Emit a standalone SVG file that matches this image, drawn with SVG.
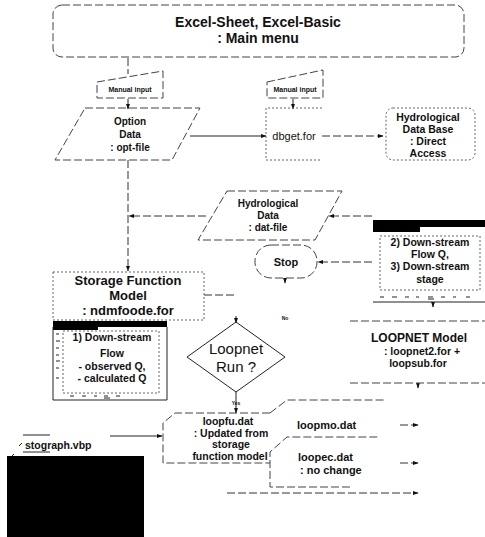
<svg xmlns="http://www.w3.org/2000/svg" width="485" height="537" viewBox="0 0 485 537">
<defs>
<style>
.t{font-family:"Liberation Sans",Arial,sans-serif;font-weight:bold;fill:#111;text-anchor:middle}
.r{font-family:"Liberation Sans",Arial,sans-serif;fill:#111;text-anchor:middle}
.l{text-anchor:start}
.d{fill:none;stroke:#444;stroke-width:1;stroke-dasharray:8 3}
.f{fill:none;stroke:#666;stroke-width:1;stroke-dasharray:2 2}
.s{fill:none;stroke:#222;stroke-width:1}
.c{fill:none;stroke:#333;stroke-width:1;stroke-dasharray:8 3}
</style>
<marker id="ah" viewBox="0 0 10 10" refX="9" refY="5" markerWidth="6" markerHeight="6" orient="auto"><path d="M0,1.5 L10,5 L0,8.5 z" fill="#111"/></marker>
</defs>
<rect width="485" height="537" fill="#fff"/>

<g id="connectors">
<line class="c" x1="128" y1="58" x2="128" y2="74"/>
<line class="s" x1="128" y1="99" x2="128" y2="109" marker-end="url(#ah)"/>
<line class="s" x1="293" y1="99" x2="293" y2="109" marker-end="url(#ah)"/>
<line class="s" x1="190" y1="136" x2="266" y2="136" marker-end="url(#ah)"/>
<line class="c" x1="322" y1="136" x2="383" y2="136" marker-end="url(#ah)"/>
<line class="c" x1="128" y1="160" x2="128" y2="271" marker-end="url(#ah)"/>
<line class="c" x1="206" y1="216" x2="129" y2="216" marker-end="url(#ah)"/>
<line class="c" x1="372" y1="216" x2="329" y2="216" marker-end="url(#ah)"/>
<line class="c" x1="372" y1="262" x2="318" y2="262" marker-end="url(#ah)"/>
<line class="s" x1="285" y1="278" x2="285" y2="283" marker-end="url(#ah)"/>
<line class="c" x1="204" y1="295" x2="234" y2="295"/>
<line class="s" x1="236" y1="316" x2="236" y2="323" marker-end="url(#ah)"/>
<line class="s" x1="433" y1="302" x2="433" y2="307" marker-end="url(#ah)"/>
<line class="s" x1="418" y1="383" x2="418" y2="388" marker-end="url(#ah)"/>
<line class="s" x1="236" y1="392" x2="236" y2="413" marker-end="url(#ah)"/>
<line class="s" x1="110" y1="436" x2="162" y2="436" marker-end="url(#ah)"/>
<line class="c" x1="400" y1="425" x2="418" y2="425" marker-end="url(#ah)"/>
<line class="c" x1="400" y1="463" x2="418" y2="463" marker-end="url(#ah)"/>
<line class="c" x1="227" y1="493" x2="418" y2="493" marker-end="url(#ah)"/>
<text class="t" x="285" y="320" font-size="5">No</text>
<text class="t" x="236" y="405" font-size="5">Yes</text>
</g>

<g id="main-menu">
<rect class="d" x="53" y="5" width="411" height="52" rx="9"/>
<text class="t" x="258" y="27" font-size="14">Excel-Sheet, Excel-Basic</text>
<text class="t" x="258" y="43" font-size="14">: Main menu</text>
</g>

<g id="manual-input-1">
<polygon class="d" points="97,82 163,71 163,98 97,98"/>
<text class="t" x="130" y="92" font-size="7">Manual input</text>
</g>

<g id="manual-input-2">
<polygon class="d" points="267,82 323,70 323,98 267,98"/>
<text class="t" x="295" y="92" font-size="7">Manual input</text>
</g>

<g id="option-data">
<polygon class="d" points="85,108 200,108 172,160 55,160"/>
<text class="t" x="130" y="125" font-size="10">Option</text>
<text class="t" x="130" y="138" font-size="10">Data</text>
<text class="t" x="130" y="151" font-size="10">: opt-file</text>
</g>

<g id="dbget">
<polyline class="f" points="322,108 266,108 266,160 322,160"/>
<text class="r" x="294" y="140" font-size="11">dbget.for</text>
</g>

<g id="hydro-db">
<rect class="f" x="386" y="108" width="89" height="52" rx="7"/>
<text class="t" x="428" y="121" font-size="10.5">Hydrological</text>
<text class="t" x="428" y="133" font-size="10.5">Data Base</text>
<text class="t" x="428" y="145" font-size="10.5">: Direct</text>
<text class="t" x="428" y="157" font-size="10.5">Access</text>
</g>

<g id="hydro-data">
<polygon class="d" points="227,191 342,191 315,240 198,240"/>
<text class="t" x="268" y="207" font-size="10">Hydrological</text>
<text class="t" x="268" y="219" font-size="10">Data</text>
<text class="t" x="268" y="231" font-size="10">: dat-file</text>
</g>

<g id="stop">
<rect class="d" x="255" y="245" width="62" height="33" rx="16"/>
<text class="t" x="286" y="266" font-size="11">Stop</text>
</g>

<g id="panel-downstream-2-3">
<rect x="373" y="220" width="112" height="7" fill="#000"/>
<rect x="373" y="226" width="47" height="6" fill="#000"/>
<rect class="f" x="380" y="236" width="100" height="54"/>
<line class="s" x1="373" y1="302" x2="485" y2="302" stroke-width="1.5"/>
<path class="s" d="M380,297h4M392,297h5M405,297h4M416,297h3M428,297h5M441,297h4M453,297h3M466,297h4M428,299h6"/>
<text class="t" x="430" y="246" font-size="10.5">2) Down-stream</text>
<text class="t" x="430" y="258" font-size="10.5">Flow Q,</text>
<text class="t" x="430" y="270" font-size="10.5">3) Down-stream</text>
<text class="t" x="430" y="283" font-size="10.5">stage</text>
</g>

<g id="storage-function-model">
<rect class="f" x="53" y="272" width="151" height="48"/>
<text class="t" x="128" y="285" font-size="13">Storage Function</text>
<text class="t" x="128" y="300" font-size="13">Model</text>
<text class="t" x="128" y="315" font-size="13">: ndmfoode.for</text>
</g>

<g id="panel-downstream-1">
<rect x="53" y="321" width="114" height="6" fill="#000"/>
<rect x="53" y="326" width="45" height="4" fill="#000"/>
<path class="s" d="M53,327V400H167V327"/>
<rect class="f" x="63" y="331" width="96" height="62"/>
<path class="s" d="M56,334h3M56,341h4M56,348h3M56,355h3M56,361h4M56,368h3M56,378h3M70,396h4M82,396h4M94,396h3M104,396h4M116,396h4M104,398h6"/>
<text class="t" x="112" y="341" font-size="10.5">1) Down-stream</text>
<text class="t" x="112" y="357" font-size="10.5">Flow</text>
<text class="t" x="112" y="370" font-size="10.5">- observed Q,</text>
<text class="t" x="112" y="382" font-size="10.5">- calculated Q</text>
</g>

<g id="loopnet-decision">
<polygon class="s" points="236,322 285,357 236,392 187,357"/>
<text class="r" x="236" y="354" font-size="15">Loopnet</text>
<text class="r" x="236" y="372" font-size="15">Run ?</text>
</g>

<g id="loopnet-model">
<line class="d" x1="350" y1="321" x2="485" y2="321"/>
<line class="d" x1="350" y1="383" x2="485" y2="383"/>
<text class="t" x="419" y="342" font-size="12">LOOPNET Model</text>
<text class="t" x="422" y="355" font-size="10.5">: loopnet2.for +</text>
<text class="t" x="418" y="367" font-size="10.5">loopsub.for</text>
</g>

<g id="loopfu">
<polyline class="d" points="270,413 175,413 163,423 163,463 270,463"/>
<text class="t" x="228" y="425" font-size="10.5">loopfu.dat</text>
<text class="t" x="231" y="436.5" font-size="10.5">: Updated from</text>
<text class="t" x="231" y="448" font-size="10.5">storage</text>
<text class="t" x="230" y="459.5" font-size="10.5">function model</text>
</g>

<g id="loopmo">
<polyline class="d" points="270,413 287,400 385,400"/>
<text class="t l" x="297" y="429" font-size="11">loopmo.dat</text>
</g>

<g id="loopec">
<polyline class="d" points="350,487 270,487 270,452 287,437 380,437"/>
<text class="t l" x="298" y="461" font-size="11">loopec.dat</text>
<text class="t l" x="300" y="474" font-size="11">: no change</text>
</g>

<g id="stograph">
<path class="s" d="M23,435H50M23,452H50M10,458L14,454M19,446L22,443"/>
<text class="t l" x="25" y="449" font-size="10.5">stograph.vbp</text>
<rect x="7" y="456" width="137" height="81" fill="#000"/>
</g>
</svg>
